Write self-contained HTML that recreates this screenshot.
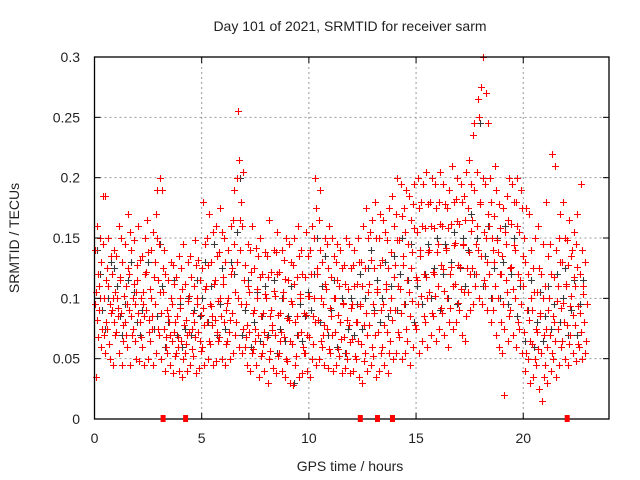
<!DOCTYPE html>
<html><head><meta charset="utf-8"><style>
body{margin:0;background:#fff;}
svg{display:block;font-family:"Liberation Sans",sans-serif;}
</style></head><body>
<svg id="chart" width="640" height="480">
<text x="350" y="31" text-anchor="middle" font-size="14" fill="#222">Day 101 of 2021, SRMTID for receiver sarm</text>
<text x="0" y="0" transform="translate(19,238) rotate(-90)" text-anchor="middle" font-size="14" fill="#222">SRMTID / TECUs</text>
<text x="350" y="471" text-anchor="middle" font-size="14" fill="#222">GPS time / hours</text>
<g id="grid"></g>
<g id="gray"></g>
<g id="red"></g>
<g id="axes"></g>
</svg>
<script>
const xTicks=[0,5,10,15,20];
const yTicks=[0,0.05,0.1,0.15,0.2,0.25,0.3];
const yTickLabels=["0","0.05","0.1","0.15","0.2","0.25","0.3"];
const redStart=0, redStep=0.2;
const redRows=[
[35,68,95,120,140,160,105,82],[60,90,130,150,185,110,75,100],[55,80,100,125,145,185,70,115],[50,75,95,110,135,150,88,62],[45,70,90,105,120,140,100,80],
[55,72,85,100,118,135,160,92],[45,65,88,102,115,130,150,78],[60,80,95,110,125,145,170,70],[45,70,90,100,120,140,155,85],[50,75,95,112,128,148,105,65],
[48,68,88,100,115,132,160,80],[45,60,85,105,120,135,150,95],[50,72,90,108,122,138,165,82],[45,65,85,100,118,140,155,75],[55,75,95,115,130,150,170,190],
[50,70,88,105,125,145,190,200],[40,60,75,90,105,120,140,68],[45,55,70,85,100,115,130,80],[38,52,65,80,95,112,128,72],[40,55,68,85,100,118,135,60],
[35,50,65,78,92,108,125,145],[40,55,70,82,98,112,130,62],[45,58,72,88,102,118,135,75],[38,52,68,80,95,110,128,148],[42,56,72,86,100,115,132,65],
[45,60,78,92,108,125,145,180],[50,65,80,95,110,128,150,170],[45,62,78,94,112,130,155,85],[48,65,82,98,115,135,160,72],[50,68,85,100,118,138,155,175],
[45,62,80,96,112,130,150,90],[50,65,82,100,120,140,160,72],[55,70,88,105,125,145,165,190],[60,80,100,130,165,200,215,255],[55,75,95,115,140,160,180,205],
[45,60,78,95,110,128,145,68],[40,55,72,88,105,122,140,160],[45,58,75,90,108,125,142,65],[35,52,70,85,100,118,135,150],[40,55,72,88,104,120,138,62],
[30,50,68,85,100,118,135,165],[42,56,74,90,106,122,140,78],[38,52,70,86,102,120,138,155],[40,55,72,88,105,122,140,65],[35,50,68,84,100,116,132,150],
[30,48,65,82,98,115,130,145],[28,45,62,80,95,112,128,150],[35,52,70,85,100,118,135,160],[38,55,72,88,104,120,140,60],[40,55,70,86,102,118,135,155],
[35,50,68,85,102,120,140,160],[45,62,80,100,125,150,175,200],[50,65,82,100,120,140,165,190],[45,60,78,95,112,130,150,70],[42,58,75,92,108,125,145,160],
[40,55,70,85,100,118,135,150],[45,58,72,86,100,115,130,145],[38,52,66,80,95,110,125,140],[42,55,68,82,96,112,128,150],[38,50,64,78,92,108,125,145],
[40,52,66,80,95,110,128,140],[35,50,65,80,95,112,130,150],[30,48,62,78,94,110,130,160],[40,55,70,88,105,125,150,175],[45,60,78,95,112,132,155,165],
[35,52,70,88,105,125,150,180],[40,55,72,90,108,128,150,170],[45,60,78,95,112,132,155,165],[38,55,72,90,108,125,148,175],[50,65,82,100,118,138,160,185],
[55,72,90,110,128,148,170,200],[50,68,88,108,128,148,168,195],[55,75,95,115,135,155,175,190],[45,65,85,105,125,145,165,185],[60,78,98,118,138,158,178,195],
[55,75,95,115,135,155,175,200],[65,85,102,120,140,160,180,195],[60,80,100,118,138,158,178,205],[70,88,105,122,140,160,180,200],[65,85,102,120,138,158,175,195],
[75,92,110,128,145,162,180,205],[70,88,106,124,142,160,178,195],[60,80,100,120,140,158,175,190],[75,92,110,126,144,162,180,210],[80,96,112,128,146,164,182,200],
[70,90,108,126,144,162,180,195],[65,85,105,125,145,165,185,205],[90,105,120,138,156,175,195,215],[95,110,125,145,165,190,235,245],[100,120,140,160,180,205,250,265],
[95,115,135,155,178,200,275,300],[90,110,130,150,170,195,245,270],[80,100,120,140,160,180,200,150],[70,90,110,130,148,168,190,210],[60,80,100,120,138,158,178,120],
[20,55,75,95,115,135,155,175],[65,85,105,125,145,165,185,200],[70,90,108,126,144,162,180,195],[60,80,100,120,140,160,180,200],[55,75,95,115,135,155,175,190],
[40,55,72,90,110,130,150,175],[30,50,65,82,100,120,140,170],[35,50,62,75,90,105,125,150],[25,45,58,72,88,105,125,160],[15,35,55,70,85,100,120,145],
[30,45,60,75,90,110,135,180],[40,55,70,85,100,120,145,220],[35,50,65,80,98,118,140,210],[45,60,75,92,110,130,150,170],[50,65,80,96,112,130,150,180],
[45,62,78,94,110,128,148,165],[55,70,86,102,118,135,155,140],[48,62,78,94,110,126,145,170],[50,60,72,88,104,120,140,195],[55,65,80,95,110,130]
];
const grayStart=0.1, grayStep=0.4;
const grayRows=[
[120,90,140],[100,130,75],[110,85,125],[95,115,70],[105,80,130],[90,120,70],[100,75,130],[145,110,85],[80,100,60],[70,95,115],
[75,100,60],[90,115,70],[100,130,85],[110,145,80],[95,125,70],[100,130,75],[155,200,120],[90,115,70],[80,105,60],[85,110,65],
[90,115,70],[75,100,55],[85,110,65],[70,95,30],[85,105,65],[120,150,90],[110,135,80],[90,115,70],[80,100,60],[75,100,55],
[95,120,70],[100,125,75],[90,115,140],[100,130,80],[110,135,85],[120,150,90],[115,145,95],[110,140,80],[120,145,95],[125,150,100],
[120,145,90],[130,155,100],[125,150,95],[140,170,110],[150,245,120],[135,160,110],[125,150,100],[130,160,100],[120,150,95],[110,135,85],
[90,115,65],[80,105,60],[85,110,65],[95,120,75],[100,125,80],[90,115,70],[95,115,70]
];
const gapTimes=[3.2,4.25,12.4,13.2,13.9,22.05];

const L=94.5,R=609,T=57,B=419,XMAX=24,YMAX=0.3;
const xs=v=>L+(R-L)*v/XMAX;
const ys=v=>B-(B-T)*v/YMAX;
const permA=[3,6,1,7,0,4,2,5], permB=[5,0,4,2,7,1,6,3], permG=[1,2,0];
const NS="http://www.w3.org/2000/svg";
function mk(tag,parent,attrs){const e=document.createElementNS(NS,tag);for(const k in attrs)e.setAttribute(k,attrs[k]);parent.appendChild(e);return e;}
const grid=document.getElementById('grid'),axes=document.getElementById('axes');
xTicks.forEach((t,i)=>{
  const x=xs(t);
  if(t>0){const g=mk('line',grid,{x1:x,x2:x,y1:T,y2:B,stroke:'#999','stroke-dasharray':'2,3','stroke-width':1});
  
  }
  const a=mk('line',axes,{x1:x,x2:x,y1:B,y2:B-6,stroke:'#000'});
  
  
  const b=mk('line',axes,{x1:x,x2:x,y1:T,y2:T+6,stroke:'#000'});
  
  
  const lb=mk('text',axes,{x:x,y:443,'text-anchor':'middle','font-size':14,fill:'#222'});
  lb.textContent=String(t);
  
  
});
yTicks.forEach((t,i)=>{
  const y=ys(t);
  if(t>0&&t<YMAX){const g=mk('line',grid,{x1:L,x2:R,y1:y,y2:y,stroke:'#999','stroke-dasharray':'2,3','stroke-width':1});
  
  }
  const a=mk('line',axes,{x1:L,x2:L+6,y1:y,y2:y,stroke:'#000'});
  
  
  const b=mk('line',axes,{x1:R,x2:R-6,y1:y,y2:y,stroke:'#000'});
  
  
  const lb=mk('text',axes,{x:80,y:y+5,'text-anchor':'end','font-size':14,fill:'#222'});
  lb.textContent=yTickLabels[i];
  
  
});
const fr=mk('rect',axes,{x:L,y:T,width:R-L,height:B-T,fill:'none',stroke:'#000','stroke-width':1.3});



function plus(parent,t,v,color,name){
  const x=Math.round(xs(t))+0.5,y=Math.round(ys(v))+0.5;
  const p=mk('path',parent,{d:`M${x-3.5} ${y}h7M${x} ${y-3.5}v7`,stroke:color,'stroke-width':1.1,fill:'none'});
  
  
}
const gG=document.getElementById('gray'),gR=document.getElementById('red');
grayRows.forEach((row,i)=>row.forEach((v,j)=>plus(gG,grayStart+i*grayStep+permG[j]*grayStep/3,v/1000,'#3a3a3a','gray-point')));
redRows.forEach((row,i)=>{const pm=i%2?permB:permA;row.forEach((v,j)=>plus(gR,redStart+i*redStep+pm[j]*redStep/8,v/1000,'#ff0000','red-point'));});
gapTimes.forEach(t=>{
  const r=mk('rect',axes,{x:xs(t)-2.5,y:B-4,width:5,height:7,fill:'#ff0000'});
  
  
});
</script>
</body></html>
